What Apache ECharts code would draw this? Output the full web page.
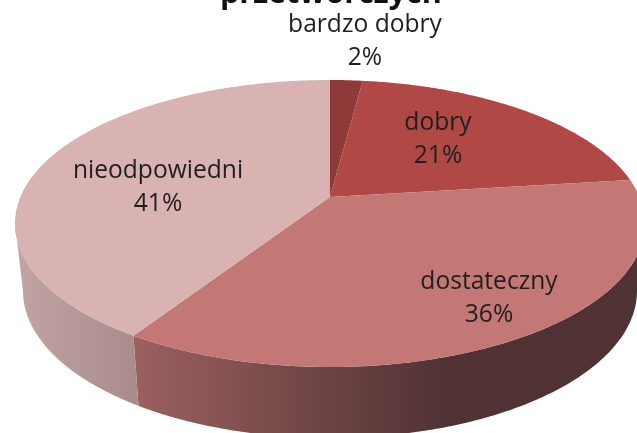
<!DOCTYPE html>
<html>
<head>
<meta charset="utf-8">
<script src="https://cdn.jsdelivr.net/npm/echarts@6/dist/echarts.min.js"></script>
<style>html,body{margin:0;padding:0;background:#fff}#c{width:637px;height:433px}</style>
</head>
<body>
<div id="c"></div>
<script>
const categories = ['bardzo dobry', 'dobry', 'dostateczny', 'nieodpowiedni'];
const values = [2, 21, 36, 41];
const titleText = 'przetwórczych';

const topColors = ['#8f3a39', '#b04845', '#c47876', '#d9b2b2'];
const labelCentres = [[365, 41], [438, 139.5], [489, 298.5], [158, 187.5]];

const TILT = 0.1847;
const topFace = { x: 330, y: 197, rx: 309.6, ry: 138.6 };
const baseFace = { x: 330, y: 263.8, rx: 301.7, ry: 142 };

function project(face, theta) {
  const u = Math.sin(theta), v = -Math.cos(theta), w = 1 - TILT * v;
  return [face.x + face.rx * u / w, face.y + face.ry * v / w];
}
function arc(face, a, b) {
  const n = Math.max(2, Math.ceil(Math.abs(b - a) / 0.01)), pts = [];
  for (let i = 0; i <= n; i++) pts.push(project(face, a + (b - a) * i / n));
  return pts;
}
const total = values.reduce((s, v) => s + v, 0);
const wallStart = Math.acos(-TILT), wallEnd = 2 * Math.PI - wallStart;

const wallFills = [
  null,
  null,
  new echarts.graphic.LinearGradient(143, 0, 450, 0, [
    { offset: 0, color: '#9a5f5f' }, { offset: 0.6, color: '#6c4343' }, { offset: 1, color: '#503234' }
  ], true),
  new echarts.graphic.LinearGradient(20, 0, 143, 0, [
    { offset: 0, color: '#c2a3a3' }, { offset: 1, color: '#a88a8b' }
  ], true)
];

function renderSlice(params, api) {
  const i = params.dataIndex;
  const before = values.slice(0, i).reduce((s, v) => s + v, 0);
  const a = before / total * 2 * Math.PI;
  const b = (before + api.value(1)) / total * 2 * Math.PI;
  const children = [];
  const wa = Math.max(a, wallStart), wb = Math.min(b, wallEnd);
  if (wb > wa && wallFills[i]) {
    children.push({
      type: 'polygon', z2: 1,
      shape: { points: arc(topFace, wa, wb).concat(arc(baseFace, wa, wb).reverse()) },
      style: { fill: wallFills[i], stroke: null }
    });
  }
  children.push({
    type: 'polygon', z2: 2,
    shape: { points: [[topFace.x, topFace.y]].concat(arc(topFace, a, b)) },
    style: { fill: topColors[i], stroke: null }
  });
  children.push({
    type: 'text', z2: 5,
    x: labelCentres[i][0], y: labelCentres[i][1],
    style: {
      text: categories[i] + '\n' + api.value(1) + '%',
      fill: '#1f1f1f', font: '400 24.6px "Open Sans"',
      lineHeight: 33, align: 'center', verticalAlign: 'middle'
    }
  });
  return { type: 'group', children };
}

const chart = echarts.init(document.getElementById('c'), null, { renderer: 'canvas' });
chart.setOption({
  animation: false,
  backgroundColor: '#fff',
  title: {
    text: titleText, left: 215, top: -26,
    textStyle: { fontFamily: 'Open Sans', fontWeight: 700, fontSize: 30.5, color: '#111' }
  },
  series: [{
    type: 'custom',
    coordinateSystem: 'none',
    clip: false,
    renderItem: renderSlice,
    data: categories.map((c, i) => [c, values[i]])
  }]
});
</script>
</body>
</html>
